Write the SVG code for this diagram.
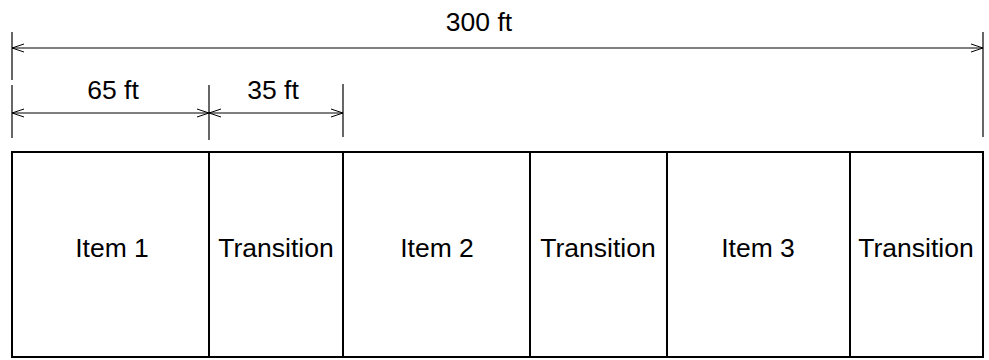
<svg xmlns="http://www.w3.org/2000/svg" width="989" height="360" viewBox="0 0 989 360">
<style>
.dim{stroke:#000;stroke-width:1;fill:none}
.tick{stroke:#000;stroke-width:1.2;fill:none}
.box{stroke:#000;stroke-width:2;fill:#fff}
text{font-family:"Liberation Sans",Arial,sans-serif;font-size:26.5px;fill:#000;text-anchor:middle}
</style>
<defs>
<marker id="ah" viewBox="0 0 12 10" refX="12" refY="5" markerWidth="12" markerHeight="10" markerUnits="userSpaceOnUse" orient="auto-start-reverse">
<path d="M0,1 L12,5 L0,9" fill="none" stroke="#000" stroke-width="1"/>
</marker>
</defs>
<g id="connectors">
<line class="tick" x1="12" y1="32" x2="12" y2="80"/>
<line class="tick" x1="12" y1="85" x2="12" y2="138"/>
<line class="tick" x1="983" y1="32" x2="983" y2="137"/>
<line class="tick" x1="209" y1="85" x2="209" y2="140" stroke="#555"/>
<line class="tick" x1="343" y1="84" x2="343" y2="137"/>
<line class="dim" x1="12" y1="48" x2="983" y2="48" marker-start="url(#ah)" marker-end="url(#ah)"/>
<line class="dim" x1="12" y1="113" x2="209" y2="113" marker-start="url(#ah)" marker-end="url(#ah)"/>
<line class="dim" x1="209" y1="113" x2="343" y2="113" marker-start="url(#ah)" marker-end="url(#ah)"/>
</g>
<g id="labels">
<text x="479" y="31">300 ft</text>
<text x="113" y="99">65 ft</text>
<text x="273" y="99">35 ft</text>
</g>
<g id="item1"><rect class="box" x="12" y="152" width="197" height="205"/><text x="112" y="257">Item 1</text></g>
<g id="transition1"><rect class="box" x="209" y="152" width="134" height="205"/><text x="276" y="257">Transition</text></g>
<g id="item2"><rect class="box" x="343" y="152" width="187" height="205"/><text x="437" y="257">Item 2</text></g>
<g id="transition2"><rect class="box" x="530" y="152" width="137" height="205"/><text x="598" y="257">Transition</text></g>
<g id="item3"><rect class="box" x="667" y="152" width="183" height="205"/><text x="758" y="257">Item 3</text></g>
<g id="transition3"><rect class="box" x="850" y="152" width="133" height="205"/><text x="916" y="257">Transition</text></g>
</svg>
